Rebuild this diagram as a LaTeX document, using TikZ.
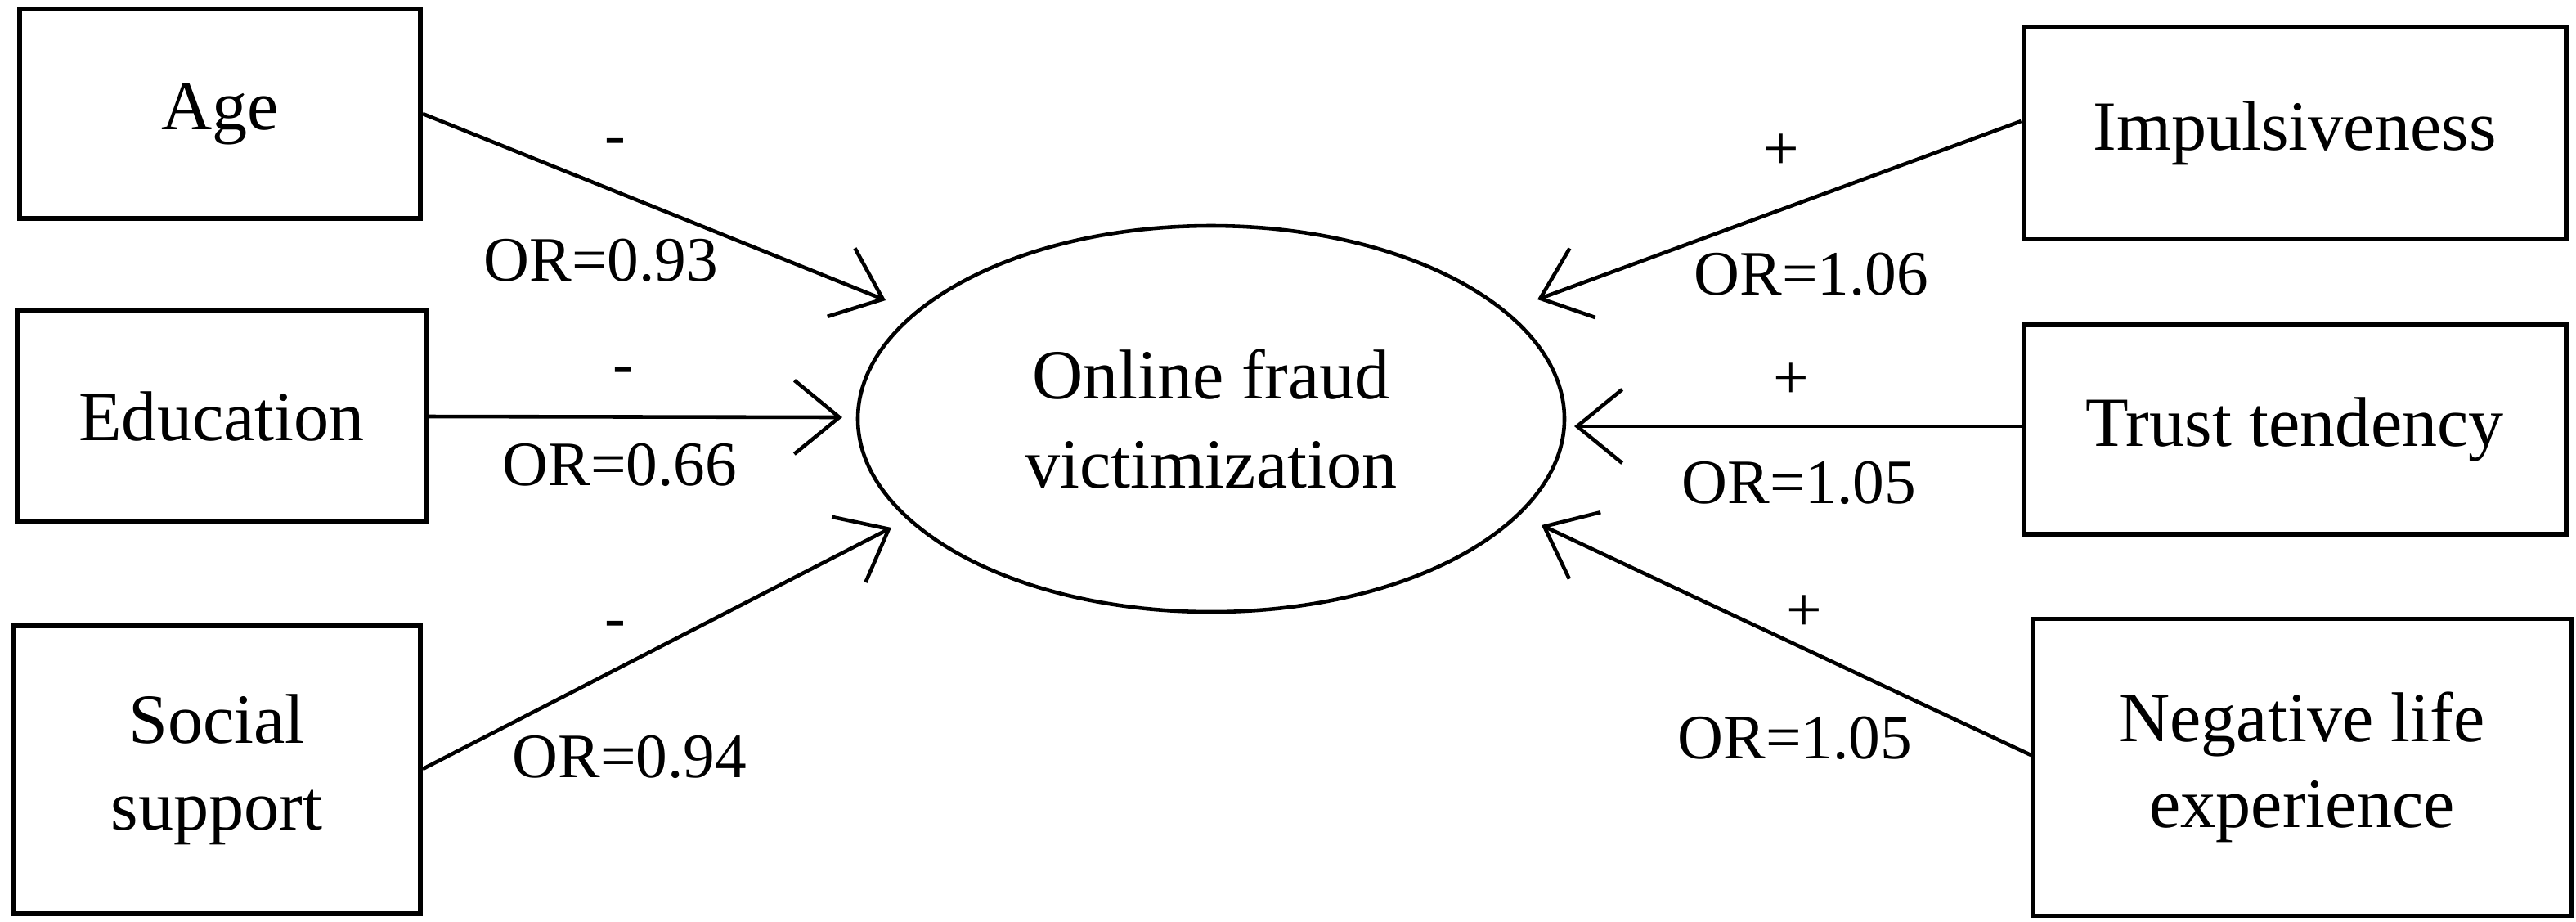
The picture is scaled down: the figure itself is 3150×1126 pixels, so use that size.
\documentclass[tikz,border=0pt]{standalone}
\usepackage{fontspec}
\setmainfont{Liberation Serif}
\usetikzlibrary{arrows.meta}
\begin{document}
\begin{tikzpicture}[x=0.01cm,y=-0.01cm,
  box/.style={draw,line width=1.6pt,inner sep=0pt,align=center,font=\fontsize{24.5}{30}\selectfont},
  lab/.style={font=\fontsize{22}{27}\selectfont,inner sep=0pt},
  arr/.style={line width=1.3pt,-{Straight Barb[length=0.55cm,width=0.9cm,line width=1.3pt]}}]
\useasboundingbox (0,0) rectangle (3150,1126);
\node[box,minimum width=4.9cm,minimum height=2.56cm] (age) at (269,139) {Age};
\node[box,minimum width=5.0cm,minimum height=2.58cm] (edu) at (271,509) {Education};
\node[box,minimum width=4.98cm,minimum height=3.52cm] (soc) at (265,941) {Social\\support};
\node[box,minimum width=6.63cm,minimum height=2.59cm] (imp) at (2806,163) {Impulsiveness};
\node[box,minimum width=6.63cm,minimum height=2.56cm] (tru) at (2806,525) {Trust tendency};
\node[box,minimum width=6.57cm,minimum height=3.63cm] (neg) at (2815,938) {Negative life\\experience};
\draw[line width=1.3pt] (1481,512) ellipse [x radius=432,y radius=236];
\node[align=center,inner sep=0pt,font=\fontsize{24.5}{31}\selectfont] (ofv) at (1481,512) {Online fraud\\victimization};
\coordinate (a1) at (1083,367); \coordinate (e1) at (1030,510); \coordinate (s1) at (1090,645);
\coordinate (i1) at (1880,366); \coordinate (t1) at (1925,521); \coordinate (n1) at (1885,642);
\draw[arr] (age.east |- 0,139) -- (a1);
\draw[arr] (edu.east) -- (e1);
\draw[arr] (soc.east |- 0,940) -- (s1);
\draw[arr] (imp.west |- 0,148) -- (i1);
\draw[arr] (tru.west |- 0,521) -- (t1);
\draw[arr] (neg.west |- 0,923) -- (n1);
\node[lab] (la) at (752,180) {-};
\node[lab] (lao) at (735,318) {OR=0.93};
\node[lab] (le) at (762,460) {-};
\node[lab] (leo) at (758,568) {OR=0.66};
\node[lab] (ls) at (752,770) {-};
\node[lab] (lso) at (770,925) {OR=0.94};
\node[lab] (li) at (2178,186) {+};
\node[lab] (lio) at (2215,335) {OR=1.06};
\node[lab] (lt) at (2190,466) {+};
\node[lab] (lto) at (2200,590) {OR=1.05};
\node[lab] (ln) at (2206,750) {+};
\node[lab] (lno) at (2195,902) {OR=1.05};
\end{tikzpicture}
\end{document}
